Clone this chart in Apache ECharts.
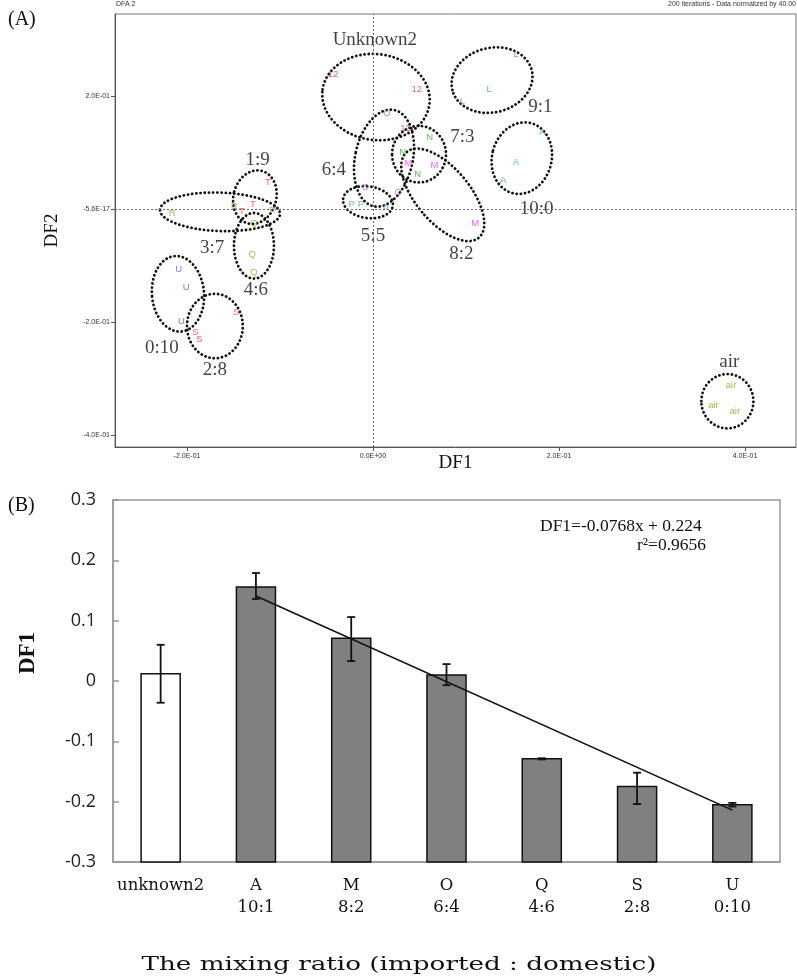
<!DOCTYPE html>
<html>
<head>
<meta charset="utf-8">
<script src="https://cdn.jsdelivr.net/npm/echarts@6/dist/echarts.min.js"></script>
<style>html,body{margin:0;padding:0;background:#fff}#c{width:797px;height:980px}</style>
</head>
<body>
<div id="c"></div>
<script>
// ---------- Panel A data ----------
const ptLabels = ['12','12','12','O','O','O','N','N','N','M','M','M','P','P','P','L','L','L','A','A','A','T','T','T','R','R','R','Q','Q','Q','U','U','U','S','S','S','air','air','air'];
const ptDF1 = [-0.043,0.047,0.035, 0.015,-0.008,0.027, 0.032,0.061,0.048, 0.038,0.066,0.110, -0.023,-0.013,0.014, 0.154,0.125,0.096, 0.182,0.154,0.140, -0.113,-0.129,-0.141, -0.216,-0.149,-0.108, -0.128,-0.130,-0.128, -0.209,-0.201,-0.206, -0.147,-0.191,-0.187, 0.385,0.366,0.389];
const ptDF2 = [0.239,0.212,0.143, 0.170,0.039,0.030, 0.101,0.126,0.062, 0.080,0.078,-0.025, 0.009,0.009,0.002, 0.274,0.211,0.191, 0.136,0.083,0.050, 0.048,0.009,-0.005, -0.007,0.004,-0.002, -0.025,-0.080,-0.112, -0.106,-0.138,-0.198, -0.182,-0.218,-0.230, -0.312,-0.347,-0.358];

// group ellipses (centre in DF1/DF2 units, semi-axes in DF1/DF2 units, tilt in degrees clockwise)
const ellName = ['Unknown2','6:4','7:3','8:2','5:5','9:1','10:0','1:9','3:7','4:6','0:10','2:8','air'];
const ellCX = [0.0032, 0.0118, 0.0495, 0.075, -0.0054, 0.128, 0.160, -0.127, -0.1645, -0.128, -0.2097, -0.170, 0.381];
const ellCY = [0.198, 0.090, 0.097, 0.025, 0.012, 0.228, 0.090, 0.021, -0.005, -0.065, -0.150, -0.207, -0.340];
const ellRX = [0.058, 0.031, 0.029, 0.029, 0.027, 0.044, 0.032, 0.023, 0.0645, 0.0215, 0.028, 0.030, 0.028];
const ellRY = [0.076, 0.087, 0.050, 0.099, 0.028, 0.057, 0.064, 0.048, 0.034, 0.058, 0.067, 0.057, 0.048];
const ellRot = [8, 12, 0, -40, 8, -14, 15, 15, 2, 0, -5, 0, 0];

// group labels
const grpNames = ['Unknown2','9:1','7:3','6:4','1:9','10:0','5:5','3:7','8:2','4:6','0:10','2:8','air'];
const grpX = [0.002, 0.180, 0.096, -0.042, -0.124, 0.176, 0.0, -0.173, 0.095, -0.126, -0.227, -0.170, 0.383];
const grpY = [0.299, 0.181, 0.127, 0.069, 0.087, 0.0, -0.048, -0.069, -0.080, -0.143, -0.246, -0.285, -0.271];

const aXTicks = [-0.2, 0, 0.2, 0.4];
const aXTickLabels = ['-2.0E-01', '0.0E+00', '2.0E-01', '4.0E-01'];
const aYTicks = [0.2, 0, -0.2, -0.4];
const aYTickLabels = ['2.0E-01', '-5.6E-17', '-2.0E-01', '-4.0E-01'];

// ---------- Panel B data ----------
const categories = ['unknown2', 'A\n10:1', 'M\n8:2', 'O\n6:4', 'Q\n4:6', 'S\n2:8', 'U\n0:10'];
const meanDF1 = [0.012, 0.156, 0.071, 0.010, -0.129, -0.175, -0.205];
const errLow  = [-0.036, 0.136, 0.033, -0.007, -0.130, -0.204, -0.208];
const errHigh = [0.060, 0.179, 0.106, 0.028, -0.128, -0.152, -0.202];
const trendLine = [null, 0.141, null, null, null, null, -0.214];
const bAxisMin = -0.3;

// ---------- styles ----------
const letterColor = {'12':'#c0504d','O':'#b45fc8','N':'#3daa3d','M':'#ff33ff','P':'#3fa9a9','L':'#3daa3d','A':'#3fa9a9','T':'#ff3333','R':'#a0a030','Q':'#a0a030','U':'#5555ff','S':'#c0504d','air':'#a0a020'};
const SERIF = '"Liberation Serif", "DejaVu Serif", serif';
const WSERIF = '"DejaVu Serif", "Liberation Serif", serif';
const SANS = '"Liberation Sans", Arial, sans-serif';

const chart = echarts.init(document.getElementById('c'), null, {renderer: 'canvas'});

const pointData = ptLabels.map((n, i) => ({
  name: n, value: [ptDF1[i], ptDF2[i]],
  label: {color: letterColor[n]}
}));
const ellData = ellName.map((n, i) => ({name: n, value: [ellCX[i], ellCY[i], ellRX[i], ellRY[i], ellRot[i]]}));
const grpData = grpNames.map((n, i) => ({name: n, value: [grpX[i], grpY[i]]}));
const errData = categories.map((c, i) => [i, errLow[i], errHigh[i]]);
const barData = meanDF1.map((v, i) => [i, v]);

function lookup(ticks, labels) {
  return v => {
    for (let i = 0; i < ticks.length; i++) if (Math.abs(ticks[i] - v) < 1e-9) return labels[i];
    return '';
  };
}

const option = {
  animation: false,
  backgroundColor: '#fff',
  graphic: [
    {type: 'text', left: 8, top: 10, style: {text: '(A)', font: '20px ' + SERIF, fill: '#111'}},
    {type: 'text', left: 8, top: 496, style: {text: '(B)', font: '20px ' + SERIF, fill: '#111'}},
    {type: 'text', left: 116, top: 1, style: {text: 'DFA 2', font: '7px ' + SANS, fill: '#333'}},
    {type: 'text', right: 1, top: 1, style: {text: '200 iterations - Data normalized by 40.00', font: '7px ' + SANS, fill: '#333'}},
    {type: 'text', left: 540, top: 517, style: {text: 'DF1=-0.0768x + 0.224', font: '17.5px ' + SERIF, fill: '#111'}},
    {type: 'text', right: 91, top: 536, style: {text: 'r²=0.9656', font: '17.5px ' + SERIF, fill: '#111'}},
    {type: 'text', x: 28, y: 653, rotation: Math.PI / 2,
      style: {text: 'DF1', font: 'bold 23px ' + SERIF, fill: '#111', align: 'center', verticalAlign: 'middle'}},
    {type: 'text', x: 399, y: 965, scaleX: 1.38,
      style: {text: 'The mixing ratio (imported : domestic)', font: '19px ' + WSERIF, fill: '#111', align: 'center', verticalAlign: 'middle'}}
  ],
  grid: [
    {left: 115, top: 14, width: 681, height: 433, show: true, borderColor: '#777', borderWidth: 1},
    {left: 113, top: 500, width: 667, height: 362, show: true, borderColor: '#999', borderWidth: 1.5}
  ],
  xAxis: [
    {
      gridIndex: 0, type: 'value', min: -0.2774, max: 0.4548,
      splitLine: {show: false},
      axisLine: {show: true, onZero: false, lineStyle: {color: '#555', width: 1}},
      axisTick: {show: true, length: 4, customValues: aXTicks, lineStyle: {color: '#555'}},
      axisLabel: {customValues: aXTicks, formatter: lookup(aXTicks, aXTickLabels), fontFamily: SANS, fontSize: 7, color: '#333', margin: 6},
      name: 'DF1', nameLocation: 'middle', nameGap: 7, nameMoveOverlap: false,
      nameTextStyle: {fontFamily: SERIF, fontSize: 19, color: '#111'}
    },
    {
      gridIndex: 1, type: 'category', data: categories,
      axisLine: {show: true, onZero: false, lineStyle: {color: '#999', width: 1.5}},
      axisTick: {show: false},
      axisLabel: {fontFamily: WSERIF, fontSize: 16.5, color: '#111', lineHeight: 22, margin: 13, interval: 0}
    }
  ],
  yAxis: [
    {
      gridIndex: 0, type: 'value', min: -0.421, max: 0.345,
      splitLine: {show: false},
      axisLine: {show: true, onZero: false, lineStyle: {color: '#555', width: 1}},
      axisTick: {show: true, length: 4, customValues: aYTicks, lineStyle: {color: '#555'}},
      axisLabel: {customValues: aYTicks, formatter: lookup(aYTicks, aYTickLabels), fontFamily: SANS, fontSize: 7, color: '#333', margin: 5},
      name: 'DF2', nameLocation: 'middle', nameGap: 53,
      nameTextStyle: {fontFamily: SERIF, fontSize: 19, color: '#111'}
    },
    {
      gridIndex: 1, type: 'value', min: bAxisMin, max: 0.3, interval: 0.1,
      splitLine: {show: false},
      axisLine: {show: true, onZero: false, lineStyle: {color: '#999', width: 1.5}},
      axisTick: {show: true, inside: true, length: 6, lineStyle: {color: '#999', width: 1.5}},
      axisLabel: {formatter: v => (Math.abs(v) < 1e-9 ? '0' : v.toFixed(1)), fontFamily: '"Open Sans", "Noto Sans", sans-serif', fontSize: 18, color: '#222', margin: 17}
    }
  ],
  series: [
    // crosshair dotted lines
    {
      type: 'scatter', xAxisIndex: 0, yAxisIndex: 0, data: [], silent: true,
      markLine: {
        symbol: 'none', silent: true, label: {show: false},
        lineStyle: {color: '#666', type: [2, 2], width: 1},
        data: [{xAxis: 0}, {yAxis: 0}]
      }
    },
    // ellipses
    {
      type: 'custom', xAxisIndex: 0, yAxisIndex: 0, data: ellData, silent: true,
      renderItem: (params, api) => {
        const c = api.coord([api.value(0), api.value(1)]);
        const s = api.size([api.value(2), api.value(3)]);
        return {
          type: 'ellipse', x: c[0], y: c[1], rotation: -api.value(4) * Math.PI / 180,
          shape: {cx: 0, cy: 0, rx: s[0], ry: s[1]},
          style: {fill: null, stroke: '#111', lineWidth: 2.8, lineDash: [0.1, 4.1], lineCap: 'round'}
        };
      }
    },
    // point letters
    {
      type: 'scatter', xAxisIndex: 0, yAxisIndex: 0, symbolSize: 0, data: pointData,
      label: {show: true, position: 'inside', formatter: '{b}', fontFamily: SANS, fontSize: 9.5}
    },
    // group labels
    {
      type: 'scatter', xAxisIndex: 0, yAxisIndex: 0, symbolSize: 0, data: grpData,
      label: {show: true, position: 'inside', formatter: '{b}', fontFamily: SERIF, fontSize: 19, color: '#111'}
    },
    // bars, drawn up from the bottom of the axis
    {
      type: 'custom', xAxisIndex: 1, yAxisIndex: 1, data: barData, z: 2,
      renderItem: (params, api) => {
        const idx = api.value(0);
        const top = api.coord([idx, api.value(1)]);
        const base = api.coord([idx, bAxisMin]);
        const w = api.size([1, 0])[0] * 0.41;
        return {
          type: 'rect',
          shape: {x: top[0] - w / 2, y: top[1], width: w, height: base[1] - top[1]},
          style: {fill: idx === 0 ? '#ffffff' : '#808080', stroke: '#111', lineWidth: 1.5}
        };
      }
    },
    // trend line
    {
      type: 'line', xAxisIndex: 1, yAxisIndex: 1, data: trendLine, connectNulls: true,
      symbol: 'none', lineStyle: {color: '#111', width: 1.6}, z: 5
    },
    // error bars
    {
      type: 'custom', xAxisIndex: 1, yAxisIndex: 1, data: errData, z: 6,
      renderItem: (params, api) => {
        const lo = api.coord([api.value(0), api.value(1)]);
        const hi = api.coord([api.value(0), api.value(2)]);
        const w = 4;
        const st = {stroke: '#111', lineWidth: 1.8};
        return {type: 'group', children: [
          {type: 'line', shape: {x1: lo[0], y1: lo[1], x2: hi[0], y2: hi[1]}, style: st},
          {type: 'line', shape: {x1: lo[0] - w, y1: lo[1], x2: lo[0] + w, y2: lo[1]}, style: st},
          {type: 'line', shape: {x1: hi[0] - w, y1: hi[1], x2: hi[0] + w, y2: hi[1]}, style: st}
        ]};
      }
    }
  ]
};
chart.setOption(option);
</script>
</body>
</html>
